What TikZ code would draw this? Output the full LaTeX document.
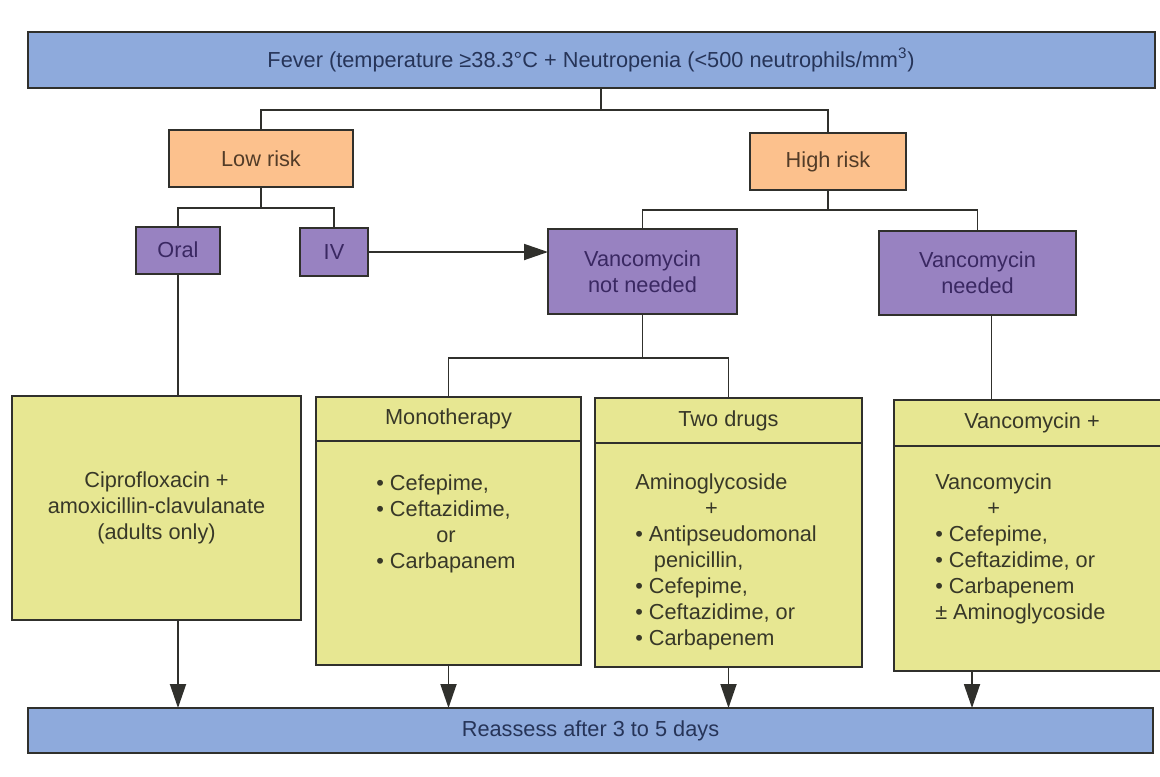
\documentclass[tikz,border=0pt]{standalone}
\usepackage{fontspec}
\setmainfont{Liberation Sans}
\usetikzlibrary{positioning,arrows.meta}

\definecolor{boxblue}{RGB}{142,170,220}
\definecolor{boxorange}{RGB}{252,193,141}
\definecolor{boxpurple}{RGB}{152,130,193}
\definecolor{boxyellow}{RGB}{231,231,146}
\definecolor{edgegray}{RGB}{48,48,44}
\definecolor{txtblue}{RGB}{38,52,88}
\definecolor{txtbrown}{RGB}{82,60,40}
\definecolor{txtpurple}{RGB}{58,40,98}
\definecolor{txtolive}{RGB}{56,56,40}

% "+" centred under a word
\newcommand{\plusunder}[1]{\setbox0\hbox{#1}\hbox to \wd0{\hfil+\hfil}}

\tikzset{
  sz/.style 2 args={minimum width=#1*0.75pt, minimum height=#2*0.75pt},
  chartbox/.style={draw=edgegray, line width=1.5pt, inner sep=0pt, outer sep=0pt,
    align=center, font=\fontsize{16.3}{19.5}\selectfont},
  bluebox/.style={chartbox, fill=boxblue, text=txtblue},
  riskbox/.style={chartbox, fill=boxorange, text=txtbrown},
  routebox/.style={chartbox, fill=boxpurple, text=txtpurple},
  drugbox/.style={chartbox, fill=boxyellow, text=txtolive},
  druglist/.style={inner sep=0pt, text=txtolive, font=\fontsize{16.3}{19.5}\selectfont},
  link/.style={draw=edgegray, line width=1.4pt},
  flow/.style={link, -{Triangle[length=18pt,width=12pt]}}
}

\begin{document}
\begin{tikzpicture}[x=0.75pt, y=-0.75pt]
	\useasboundingbox (0,0) rectangle (1160,776);
	\clip (0,0) rectangle (1160,776);
	
	% 1. top and bottom bars
	\node[bluebox, sz={1127}{56}] (fever) at (591,60) {Fever (temperature ≥38.3°C + Neutropenia (<500 neutrophils/mm\textsuperscript{3})};
	\node[bluebox, sz={1125}{45}] (reassess) at (590.5,730.5) {Reassess after 3 to 5 days};
	
	% 2. risk and route boxes
	\node[riskbox, sz={184}{57}] (low) at (261,158.5) {Low risk};
	\node[riskbox, sz={156}{57}] (high) at (828,161.5) {High risk};
	\node[routebox, sz={84}{47}] (oral) at (178,250) {Oral};
	\node[routebox, sz={68}{48}] (iv) at (334,252) {IV};
	\node[routebox, sz={189}{85}] (vnn) at (642.5,271.5) {Vancomycin\\not needed};
	\node[routebox, sz={197}{84}] (vn) at (977.5,273) {Vancomycin\\needed};
	
	% 3. drug boxes (header + body)
	\node[drugbox, sz={289}{224}] (cipro) at (156.5,508) {Ciprofloxacin +\\amoxicillin-clavulanate\\(adults only)};
	\node[drugbox, sz={265}{44}] (monohead) at (448.5,419) {Monotherapy};
	\node[drugbox, sz={265}{224}, below=0pt of monohead] (monobody) {};
	\node[drugbox, sz={267}{45}] (twohead) at (728.5,420.5) {Two drugs};
	\node[drugbox, sz={267}{224}, below=0pt of twohead] (twobody) {};
	\node[drugbox, sz={276}{46}] (vplushead) at (1032,423) {Vancomycin +};
	\node[drugbox, sz={276}{225}, below=0pt of vplushead] (vplusbody) {};
	
	\node[druglist, anchor=base] (monotext) at (446,490) {\begin{tabular}[t]{@{}l@{}}• Cefepime,\\• Ceftazidime,\\\multicolumn{1}{c}{or}\\• Carbapanem\end{tabular}};
	\node[druglist, anchor=base west] (twotext) at (635,489) {\begin{tabular}[t]{@{}l@{}}Aminoglycoside\\\plusunder{Aminoglycoside}\\• Antipseudomonal\\\hspace*{14pt}penicillin,\\• Cefepime,\\• Ceftazidime, or\\• Carbapenem\end{tabular}};
	\node[druglist, anchor=base west] (vplustext) at (935,489) {\begin{tabular}[t]{@{}l@{}}Vancomycin\\\plusunder{Vancomycin}\\• Cefepime,\\• Ceftazidime, or\\• Carbapenem\\± Aminoglycoside\end{tabular}};
	
	% 4. connectors
	\draw[link] ([xshift=7.5pt]fever.south) -- ++(0,22) coordinate (fork1) -| (low.north);
	\draw[link] (fork1) -| (high.north);
	\draw[link] (low.south) -- ++(0,21) coordinate (fork2) -| (oral.north);
	\draw[link] (fork2) -| (iv.north);
	\draw[link] (high.south) -- ++(0,20) coordinate (fork3) -| (vnn.north);
	\draw[link] (fork3) -| (vn.north);
	\draw[link] (vnn.south) -- ++(0,44) coordinate (fork4) -| (monohead.north);
	\draw[link] (fork4) -| (twohead.north);
	\draw[link] (oral.south) -- (oral.south |- cipro.north);
	\coordinate (vnout) at ([xshift=10.5pt]vn.south);
	\draw[link] (vnout) -- (vnout |- vplushead.north);
	\draw[flow] (iv.east) -- (iv.east -| vnn.west);
	
	% 5. arrows into the reassess bar
	\draw[flow] (oral.south |- cipro.south) -- (oral.south |- reassess.north);
	\draw[flow] (monobody.south) -- (monobody.south |- reassess.north);
	\draw[flow] (twobody.south) -- (twobody.south |- reassess.north);
	\coordinate (vplusout) at ([xshift=-45pt]vplusbody.south);
	\draw[flow] (vplusout) -- (vplusout |- reassess.north);
\end{tikzpicture}
\end{document}
